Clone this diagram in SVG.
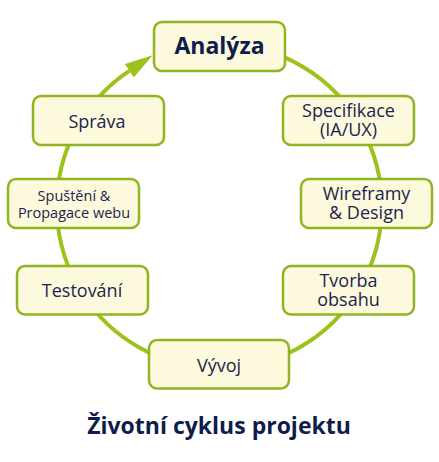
<svg xmlns="http://www.w3.org/2000/svg" width="439" height="462" viewBox="0 0 439 462">
  <style>
    .box { fill: #fcf9dc; stroke: #8fb521; stroke-width: 2.5; }
    .lbl { font-family: "Open Sans", "Noto Sans", "DejaVu Sans", sans-serif; font-size: 18px; fill: #1b2550; text-anchor: middle; }
    .sm { font-size: 14.5px; }
    .bold { font-weight: bold; font-size: 23px; fill: #0f1d4a; }
    .cycle { fill: none; stroke: #9dc21b; stroke-width: 4; }
  </style>
  <defs>
    <marker id="arrow" markerUnits="userSpaceOnUse" markerWidth="30" markerHeight="18" refX="0" refY="8" orient="auto">
      <path d="M0,0 L28,8 L0,16 z" fill="#9dc21b"/>
    </marker>
  </defs>
  <rect width="439" height="462" fill="#ffffff"/>
  <g id="connectors">
    <path class="cycle" d="M154,57.3 A162.5,162.5 0 1 1 129.3,70.8" marker-end="url(#arrow)"/>
  </g>
  <g id="analyza">
    <rect class="box" x="154" y="22" width="131" height="49" rx="8"/>
    <text class="lbl bold" x="219.5" y="53.5">Analýza</text>
  </g>
  <g id="specifikace">
    <rect class="box" x="283" y="96" width="131" height="49" rx="8"/>
    <text class="lbl" x="348.5" y="117">Specifikace</text>
    <text class="lbl" x="348.5" y="136">(IA/UX)</text>
  </g>
  <g id="wireframy">
    <rect class="box" x="301" y="179" width="131" height="49" rx="8"/>
    <text class="lbl" x="366.5" y="200">Wireframy</text>
    <text class="lbl" x="366.5" y="219">&amp; Design</text>
  </g>
  <g id="tvorba">
    <rect class="box" x="283" y="266" width="131" height="48.5" rx="8"/>
    <text class="lbl" x="348.5" y="287">Tvorba</text>
    <text class="lbl" x="348.5" y="306">obsahu</text>
  </g>
  <g id="vyvoj">
    <rect class="box" x="149" y="340" width="140" height="48.5" rx="8"/>
    <text class="lbl" x="219" y="371.5">Vývoj</text>
  </g>
  <g id="testovani">
    <rect class="box" x="17" y="266" width="131" height="48.5" rx="8"/>
    <text class="lbl" x="82" y="296.5">Testování</text>
  </g>
  <g id="spusteni">
    <rect class="box" x="8" y="179" width="131" height="49" rx="8"/>
    <text class="lbl sm" x="74" y="201">Spuštění &amp;</text>
    <text class="lbl sm" x="74" y="217.5">Propagace webu</text>
  </g>
  <g id="sprava">
    <rect class="box" x="33" y="96" width="131" height="49" rx="8"/>
    <text class="lbl" x="97" y="127.5">Správa</text>
  </g>
  <text class="lbl bold" x="219" y="434">Životní cyklus projektu</text>
</svg>
